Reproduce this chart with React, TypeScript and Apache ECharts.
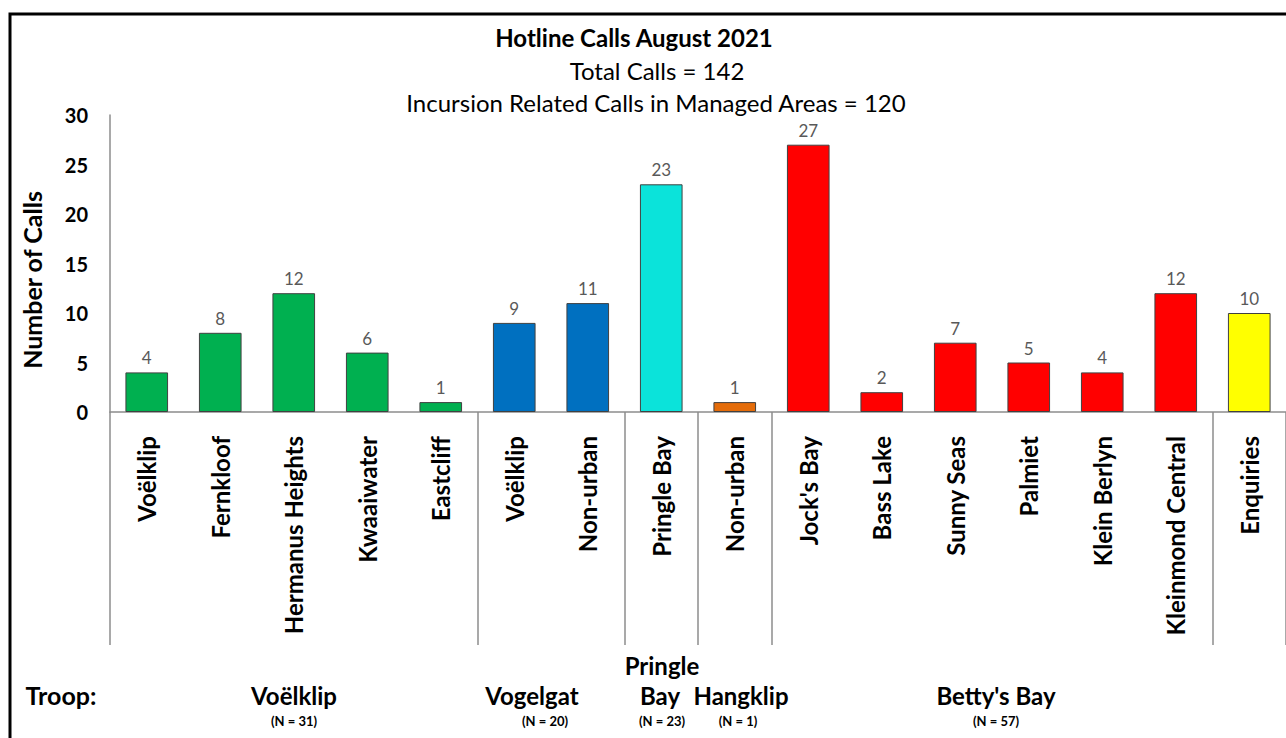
import React, { useEffect, useRef } from "react";
import * as echarts from "echarts";

const categories = [
  "Voëlklip", "Fernkloof", "Hermanus Heights", "Kwaaiwater", "Eastcliff",
  "Voëlklip", "Non-urban", "Pringle Bay", "Non-urban", "Jock's Bay",
  "Bass Lake", "Sunny Seas", "Palmiet", "Klein Berlyn", "Kleinmond Central", "Enquiries",
];
const values = [4, 8, 12, 6, 1, 9, 11, 23, 1, 27, 2, 7, 5, 4, 12, 10];
const barColors = [
  "#00B050", "#00B050", "#00B050", "#00B050", "#00B050",
  "#0070C0", "#0070C0", "#0BE3DA", "#E46C0A", "#FF0000",
  "#FF0000", "#FF0000", "#FF0000", "#FF0000", "#FF0000", "#FFFF00",
];
const groupBoundaries = [0, 5, 7, 8, 9, 15];
const groupNames = ["Voëlklip", "Vogelgat", "Bay", "Hangklip", "Betty's Bay"];
const groupCounts = ["(N = 31)", "(N = 20)", "(N = 23)", "(N = 1)", "(N = 57)"];
const groupCenters = [294, 532, 660, 741, 996];
const countCenters = [294, 545, 662, 738, 996];
const yTicks = [0, 30, 5];

const FONT = "Lato, 'Open Sans', sans-serif";

export default function App() {
  const ref = useRef<HTMLDivElement>(null);
  useEffect(() => {
    if (!ref.current) return;
    const chart = echarts.init(ref.current, null, { renderer: "svg" });
    const txt = (x: number, y: number, text: string, font: string, rotation = 0) => ({
      type: "text",
      x,
      y,
      rotation,
      style: { text, font, fill: "#000", align: "center", verticalAlign: "middle" },
    });
    const graphics: any[] = [
      {
        type: "rect",
        shape: { x: 10, y: 14, width: 1400, height: 800 },
        style: { fill: "none", stroke: "#000", lineWidth: 3 },
        silent: true,
      },
      txt(634, 37, "Hotline Calls August 2021", `bold 24px ${FONT}`),
      txt(657, 70, "Total Calls = 142", `24px ${FONT}`),
      txt(656, 102, "Incursion Related Calls in Managed Areas = 120", `24px ${FONT}`),
      txt(32, 280, "Number of Calls", `bold 25px ${FONT}`, Math.PI / 2),
      txt(61, 695, "Troop:", `bold 25px ${FONT}`),
      txt(662, 665, "Pringle", `bold 24px ${FONT}`),
    ];
    groupNames.forEach((g, i) => {
      graphics.push(txt(groupCenters[i], 695, g, `bold 24px ${FONT}`));
      graphics.push(txt(countCenters[i], 721, groupCounts[i], `bold 13px ${FONT}`));
    });
    chart.setOption({
      animation: false,
      textStyle: { fontFamily: FONT },
      grid: { left: 110, right: 0, top: 115, bottom: 326, containLabel: false },
      xAxis: {
        type: "category",
        data: categories,
        axisLine: { lineStyle: { color: "#8c8c8c", width: 1.5 } },
        axisTick: {
          show: true,
          alignWithLabel: false,
          interval: (i: number) => groupBoundaries.includes(i),
          length: 233,
          lineStyle: { color: "#8c8c8c", width: 1.5 },
        },
        axisLabel: {
          interval: 0,
          rotate: 90,
          margin: 24,
          fontSize: 24,
          fontWeight: "bold",
          color: "#000",
          fontFamily: FONT,
        },
      },
      yAxis: {
        type: "value",
        min: yTicks[0],
        max: yTicks[1],
        interval: yTicks[2],
        axisLine: { show: true, lineStyle: { color: "#8c8c8c", width: 1.5 } },
        axisTick: { show: false },
        splitLine: { show: false },
        axisLabel: { fontSize: 20, fontWeight: "bold", color: "#000", margin: 22, fontFamily: FONT },
      },
      series: [
        {
          type: "bar",
          data: values.map((v, i) => ({ value: v, itemStyle: { color: barColors[i] } })),
          barWidth: "58%",
          itemStyle: { borderColor: "#404040", borderWidth: 1 },
          label: { show: true, position: "top", distance: 6, fontSize: 17, color: "#595959", fontFamily: FONT },
        },
      ],
      graphic: graphics,
    });
    return () => chart.dispose();
  }, []);
  return (
    <div
      ref={ref}
      style={{ position: "fixed", left: 0, top: 0, width: 1286, height: 738, background: "#fff" }}
    />
  );
}
